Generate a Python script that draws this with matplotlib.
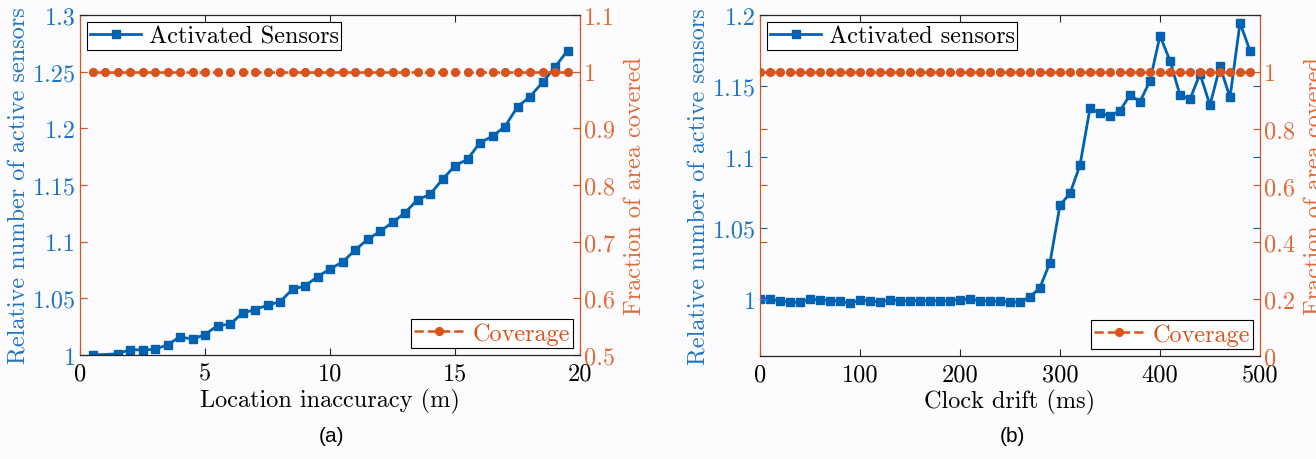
import matplotlib
matplotlib.use("Agg")
import matplotlib.pyplot as plt

# ---------------- data ----------------
a_x = [0.5, 1.5, 2.0, 2.5, 3.0, 3.5, 4.0, 4.5, 5.0, 5.5, 6.0, 6.5, 7.0, 7.5, 8.0,
       8.5, 9.0, 9.5, 10.0, 10.5, 11.0, 11.5, 12.0, 12.5, 13.0, 13.5, 14.0, 14.5,
       15.0, 15.5, 16.0, 16.5, 17.0, 17.5, 18.0, 18.5, 19.0, 19.5]
a_sensors = [1.000, 1.001, 1.0047, 1.0044, 1.005, 1.009, 1.016, 1.014, 1.018, 1.026,
             1.027, 1.037, 1.040, 1.044, 1.047, 1.058, 1.061, 1.069, 1.076, 1.082,
             1.0925, 1.102, 1.109, 1.117, 1.1255, 1.137, 1.1417, 1.155, 1.167,
             1.1727, 1.1874, 1.193, 1.2016, 1.219, 1.228, 1.2405, 1.254, 1.2686]
a_cov_x = [0.5, 1.0, 1.5, 2.0, 2.5, 3.0, 3.5, 4.0, 4.5, 5.0, 5.5, 6.0, 6.5, 7.0, 7.5,
           8.0, 8.5, 9.0, 9.5, 10.0, 10.5, 11.0, 11.5, 12.0, 12.5, 13.0, 13.5, 14.0,
           14.5, 15.0, 15.5, 16.0, 16.5, 17.0, 17.5, 18.0, 18.5, 19.0, 19.5]
a_coverage = [1.0] * len(a_cov_x)

b_x = [0, 10, 20, 30, 40, 50, 60, 70, 80, 90, 100, 110, 120, 130, 140, 150, 160,
       170, 180, 190, 200, 210, 220, 230, 240, 250, 260, 270, 280, 290, 300, 310,
       320, 330, 340, 350, 360, 370, 380, 390, 400, 410, 420, 430, 440, 450, 460,
       470, 480, 490]
b_sensors = [1.000, 1.000, 0.9988, 0.998, 0.9977, 1.000, 0.9995, 0.999, 0.9988, 0.997,
             0.9995, 0.9988, 0.998, 0.9995, 0.999, 0.999, 0.999, 0.999, 0.999, 0.999,
             0.9997, 1.000, 0.999, 0.9988, 0.9985, 0.998, 0.998, 1.0016, 1.0082, 1.0258,
             1.0662, 1.0744, 1.0944, 1.1343, 1.1308, 1.1291, 1.1326, 1.1437, 1.139, 1.1537,
             1.1854, 1.1678, 1.1437, 1.1408, 1.1585, 1.1366, 1.1639, 1.142, 1.1944, 1.1749]
b_coverage = [1.0] * len(b_x)

a_xticks = [0, 5, 10, 15, 20]
a_lticks = [1.0, 1.05, 1.1, 1.15, 1.2, 1.25, 1.3]
a_lticklabels = ["1", "1.05", "1.1", "1.15", "1.2", "1.25", "1.3"]
a_rticks = [0.5, 0.6, 0.7, 0.8, 0.9, 1.0, 1.1]
a_rticklabels = ["0.5", "0.6", "0.7", "0.8", "0.9", "1", "1.1"]

b_xticks = [0, 100, 200, 300, 400, 500]
b_lticks = [1.0, 1.05, 1.1, 1.15, 1.2]
b_lticklabels = ["1", "1.05", "1.1", "1.15", "1.2"]
b_rticks = [0, 0.2, 0.4, 0.6, 0.8, 1.0]
b_rticklabels = ["0", "0.2", "0.4", "0.6", "0.8", "1"]

# ---------------- style ----------------
plt.rcParams["font.family"] = "serif"
plt.rcParams["font.serif"] = ["cmr10", "DejaVu Serif"]
plt.rcParams["mathtext.fontset"] = "cm"
plt.rcParams["axes.formatter.use_mathtext"] = True

BLUE = "#0062b1"
BLUE_TXT = "#1f74c2"
ORANGE = "#d9541c"
ORANGE_TXT = "#e06a35"
DARK = "#262626"
BG = "#fcfcfe"
FS = 17.5

fig = plt.figure(figsize=(13.16, 4.6), dpi=100, facecolor=BG)
W, H = 1316, 460


def make_panel(left, right, top, bottom, xs, ys, cx, cy, xlim, ylim, rlim,
               xticks, lticks, lticklabels, rticks, rticklabels, xlabel, leg1, tag, tagx):
    ax = fig.add_axes([left / W, 1 - bottom / H, (right - left) / W, (bottom - top) / H])
    ax.set_facecolor(BG)
    ax2 = ax.twinx()

    l1, = ax.plot(xs, ys, color=BLUE, lw=2.0, marker="s", ms=5.2, label=leg1, zorder=3)
    l2, = ax2.plot(cx, cy, color=ORANGE, lw=1.8, ls="--", marker="o", ms=5.6,
                   label="Coverage", zorder=3)

    ax.set_xlim(*xlim)
    ax.set_ylim(*ylim)
    ax2.set_ylim(*rlim)
    ax.set_xticks(xticks)
    ax.set_xticklabels([str(t) for t in xticks])
    ax.set_yticks(lticks)
    ax.set_yticklabels(lticklabels)
    ax2.set_yticks(rticks)
    ax2.set_yticklabels(rticklabels)

    ax.tick_params(axis="x", direction="in", top=True, bottom=True, length=5,
                   width=0.8, color=DARK, labelcolor="black", labelsize=FS, pad=5)
    ax.tick_params(axis="y", direction="in", left=True, right=True, length=5,
                   width=0.8, color=BLUE, labelcolor=BLUE_TXT, labelsize=FS, pad=3)
    ax2.tick_params(axis="y", direction="in", left=True, right=True, length=5,
                    width=0.8, color=ORANGE, labelcolor=ORANGE_TXT, labelsize=FS, pad=3)

    for s in ax.spines.values():
        s.set_visible(False)
    ax2.spines["left"].set_color(ORANGE)
    ax2.spines["right"].set_color(ORANGE)
    ax2.spines["top"].set_color(DARK)
    ax2.spines["bottom"].set_color(DARK)
    for s in ax2.spines.values():
        s.set_linewidth(0.9)

    ax.set_xlabel(xlabel, fontsize=FS, color="black", labelpad=3)
    ax.set_ylabel("Relative number of active sensors", fontsize=FS, color=BLUE_TXT,
                  labelpad=1.5)
    ax2.set_ylabel("Fraction of area covered", fontsize=FS, color=ORANGE_TXT, labelpad=6)

    lg1 = ax.legend(handles=[l1], loc="upper left", fontsize=FS, frameon=True,
                    fancybox=False, edgecolor="black", framealpha=1,
                    borderaxespad=0.3, handlelength=2.1, handletextpad=0.3,
                    borderpad=0.12)
    lg1.get_frame().set_linewidth(0.8)
    lg2 = ax2.legend(handles=[l2], loc="lower right", fontsize=FS, frameon=True,
                     fancybox=False, edgecolor="black", framealpha=1,
                     borderaxespad=0.3, handlelength=2.1, handletextpad=0.3,
                     borderpad=0.12, labelcolor=ORANGE)
    lg2.get_frame().set_linewidth(0.8)

    fig.text(tagx / W, 1 - 437 / H, tag, fontsize=15, family="Liberation Sans",
             ha="center", va="center", color="black")
    return ax, ax2


make_panel(80, 580, 16, 356, a_x, a_sensors, a_cov_x, a_coverage,
           (0, 20), (1.0, 1.3), (0.5, 1.1),
           a_xticks, a_lticks, a_lticklabels, a_rticks, a_rticklabels,
           "Location inaccuracy (m)", "Activated Sensors", "(a)", 331)

make_panel(760, 1260, 16, 357, b_x, b_sensors, b_x, b_coverage,
           (0, 500), (0.96, 1.2), (0, 1.2),
           b_xticks, b_lticks, b_lticklabels, b_rticks, b_rticklabels,
           "Clock drift (ms)", "Activated sensors", "(b)", 1012)

fig.savefig("out.png", dpi=100, facecolor=BG)
